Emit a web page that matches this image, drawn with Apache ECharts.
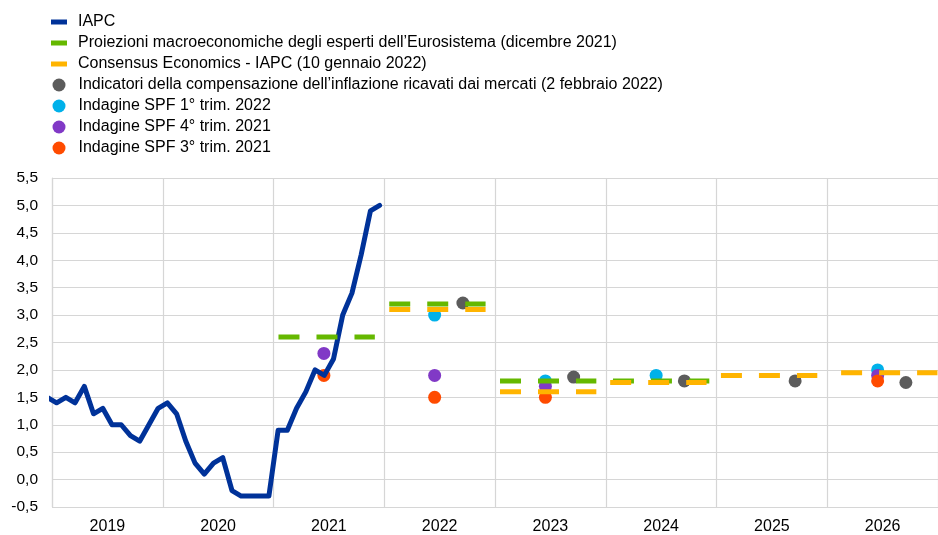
<!DOCTYPE html>
<html>
<head>
<meta charset="utf-8">
<title>IAPC e aspettative di inflazione</title>
<script src="https://cdn.jsdelivr.net/npm/echarts@6/dist/echarts.min.js"></script>
<style>
  html, body { margin: 0; padding: 0; background: #fff; }
  #main { width: 938px; height: 535px; }
</style>
</head>
<body>
<div id="main"></div>
<script type="text/javascript">
// anni sull'asse x
var years = ['2019', '2020', '2021', '2022', '2023', '2024', '2025', '2026'];

// IAPC mensile, da dicembre 2018 a dicembre 2021
var iapcStart = 2018 + 11 / 12;
var iapc = [1.5, 1.4, 1.5, 1.4, 1.7, 1.2, 1.3, 1.0, 1.0, 0.8, 0.7, 1.0, 1.3,
            1.4, 1.2, 0.7, 0.3, 0.1, 0.3, 0.4, -0.2, -0.3, -0.3, -0.3, -0.3,
            0.9, 0.9, 1.3, 1.6, 2.0, 1.9, 2.2, 3.0, 3.4, 4.1, 4.9, 5.0];

// proiezioni Eurosistema (dicembre 2021)
var projYears = [2021, 2022, 2023, 2024];
var projValues = [2.6, 3.2, 1.8, 1.8];
var projFrom = [0.045, 0.045, 0.045, 0.065];

// Consensus Economics (10 gennaio 2022)
var consYears = [2022, 2023, 2024, 2025, 2026];
var consValues = [3.1, 1.6, 1.77, 1.9, 1.95];
var consFrom = [0.045, 0.045, 0.04, 0.04, 0.125];

// indicatori di mercato (2 febbraio 2022)
var mktYears = [2022, 2023, 2024, 2025, 2026];
var mktValues = [3.22, 1.87, 1.8, 1.8, 1.77];

// Survey of Professional Forecasters
var spfQ1Years = [2022, 2023, 2024, 2026];
var spfQ1 = [3.0, 1.8, 1.9, 2.0];
var spfQ4Years = [2021, 2022, 2023, 2026];
var spfQ4 = [2.3, 1.9, 1.7, 1.9];
var spfQ3Years = [2021, 2022, 2023, 2026];
var spfQ3 = [1.9, 1.5, 1.5, 1.8];

var names = [
  'IAPC',
  'Proiezioni macroeconomiche degli esperti dell\u2019Eurosistema (dicembre 2021)',
  'Consensus Economics - IAPC (10 gennaio 2022)',
  'Indicatori della compensazione dell\u2019inflazione ricavati dai mercati (2 febbraio 2022)',
  'Indagine SPF 1\u00b0 trim. 2022',
  'Indagine SPF 4\u00b0 trim. 2021',
  'Indagine SPF 3\u00b0 trim. 2021'
];

var FONT = 'Liberation Sans, Arial, sans-serif';
var SEG_LEN = 0.87;     // lunghezza dei tratti annuali
var SPF_POS = 0.455;    // posizione dei punti SPF nell'anno
var MKT_POS = 0.71;     // posizione dei punti di mercato nell'anno

function segments(ys, vals, from) {
  var out = [];
  for (var i = 0; i < ys.length; i++) {
    out.push([ys[i] + from[i], vals[i]]);
    out.push([ys[i] + from[i] + SEG_LEN, vals[i]]);
    out.push([ys[i] + from[i] + SEG_LEN, '-']);
  }
  return out;
}
function points(ys, vals, pos) {
  return ys.map(function (y, i) { return [y + pos, vals[i]]; });
}

var iapcData = iapc.map(function (v, i) { return [iapcStart + (i + 0.5) / 12, v]; });

var legendText = { fontFamily: FONT, fontSize: 16, color: '#000', lineHeight: 16 };

var myChart = echarts.init(document.getElementById('main'));
var option = {
  backgroundColor: '#fff',
  animation: false,
  legend: [{
    orient: 'vertical',
    left: 51,
    top: 14,
    padding: 0,
    itemWidth: 16,
    itemHeight: 5,
    itemGap: 5,
    icon: 'rect',
    textStyle: Object.assign({ padding: [0, 0, 0, 6] }, legendText),
    data: names.slice(0, 3)
  }, {
    orient: 'vertical',
    left: 52.5,
    top: 77,
    padding: 0,
    itemWidth: 13,
    itemHeight: 13,
    itemGap: 5,
    icon: 'circle',
    textStyle: Object.assign({ padding: [0, 0, 0, 8] }, legendText),
    data: names.slice(3)
  }],
  grid: { left: 52, right: -10, top: 178, bottom: 27 },
  xAxis: [{
    type: 'category',
    data: years,
    boundaryGap: true,
    axisLine: { show: false },
    axisTick: { show: false },
    axisLabel: { fontFamily: FONT, fontSize: 16, color: '#000', margin: 12 },
    splitLine: { show: true, lineStyle: { color: '#d6d6d6', width: 1.2 } }
  }, {
    type: 'value',
    min: 2019,
    max: 2027,
    show: false
  }],
  yAxis: {
    type: 'value',
    min: -0.5,
    max: 5.5,
    interval: 0.5,
    axisLine: { show: true, lineStyle: { color: '#d6d6d6', width: 1.2 } },
    axisTick: { show: false },
    axisLabel: {
      fontFamily: FONT, fontSize: 15.5, color: '#000', margin: 14,
      formatter: function (v) { return v.toFixed(1).replace('.', ','); }
    },
    splitLine: { lineStyle: { color: '#d6d6d6', width: 1.2 } }
  },
  series: [{
    name: names[0],
    type: 'line',
    xAxisIndex: 1,
    symbol: 'none',
    data: iapcData,
    itemStyle: { color: '#003299' },
    lineStyle: { color: '#003299', width: 5, join: 'round', cap: 'round' }
  }, {
    name: names[1],
    type: 'line',
    xAxisIndex: 1,
    symbol: 'none',
    connectNulls: false,
    data: segments(projYears, projValues, projFrom),
    itemStyle: { color: '#65b800' },
    lineStyle: { color: '#65b800', width: 5, type: [21, 17] }
  }, {
    name: names[2],
    type: 'line',
    xAxisIndex: 1,
    symbol: 'none',
    connectNulls: false,
    data: segments(consYears, consValues, consFrom),
    itemStyle: { color: '#ffb400' },
    lineStyle: { color: '#ffb400', width: 5, type: [21, 17] }
  }, {
    name: names[3],
    type: 'scatter',
    xAxisIndex: 1,
    symbolSize: 13,
    data: points(mktYears, mktValues, MKT_POS),
    itemStyle: { color: '#5c5c5c', opacity: 1 }
  }, {
    name: names[4],
    type: 'scatter',
    xAxisIndex: 1,
    symbolSize: 13,
    data: points(spfQ1Years, spfQ1, SPF_POS),
    itemStyle: { color: '#00b1ea', opacity: 1 }
  }, {
    name: names[5],
    type: 'scatter',
    xAxisIndex: 1,
    symbolSize: 13,
    data: points(spfQ4Years, spfQ4, SPF_POS),
    itemStyle: { color: '#8139c6', opacity: 1 }
  }, {
    name: names[6],
    type: 'scatter',
    xAxisIndex: 1,
    symbolSize: 13,
    data: points(spfQ3Years, spfQ3, SPF_POS),
    itemStyle: { color: '#ff4b00', opacity: 1 }
  }]
};
myChart.setOption(option);
</script>
</body>
</html>
